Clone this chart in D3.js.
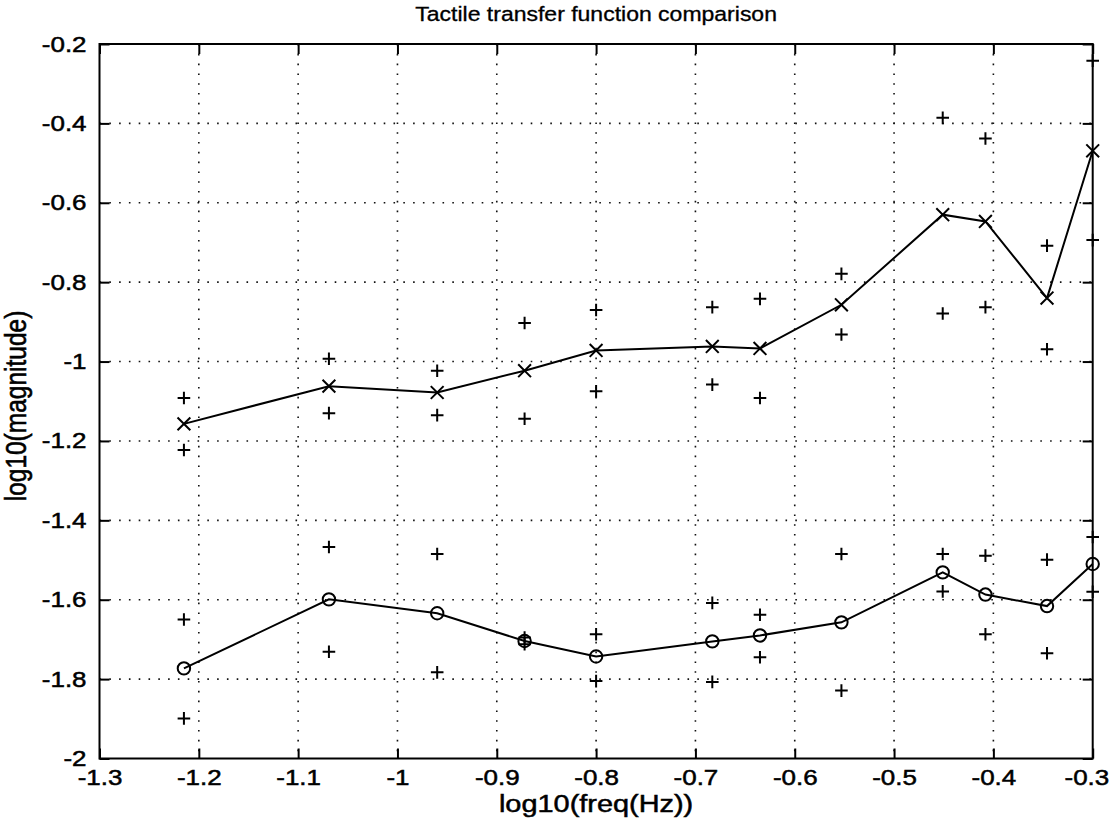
<!DOCTYPE html>
<html>
<head>
<meta charset="utf-8">
<script src="https://cdn.jsdelivr.net/npm/d3@7"></script>
<style>
  html, body { margin: 0; padding: 0; background: #fff; }
  svg { display: block; font-family: "Liberation Sans", Arial, Helvetica, sans-serif; }
</style>
</head>
<body>
<svg id="chart" width="1110" height="822"></svg>
<script>
// log10 of stimulus frequency (Hz)
const freqLog = [-1.215, -1.069, -0.960, -0.872, -0.800, -0.683, -0.635, -0.553, -0.451, -0.408, -0.346, -0.300];

// upper response: mean (x markers) and spread (+ markers)
const upperMean = [-1.157, -1.062, -1.078, -1.023, -0.972, -0.962, -0.967, -0.857, -0.630, -0.647, -0.840, -0.469];
const upperHigh = [-1.092, -0.993, -1.023, -0.903, -0.870, -0.863, -0.842, -0.779, -0.386, -0.438, -0.708, -0.242];
const upperLow  = [-1.223, -1.130, -1.135, -1.144, -1.075, -1.058, -1.092, -0.932, -0.879, -0.863, -0.969, -0.694];

// lower response: mean (o markers) and spread (+ markers)
const lowerMean = [-1.773, -1.599, -1.634, -1.704, -1.743, -1.705, -1.690, -1.657, -1.531, -1.587, -1.616, -1.510];
const lowerHigh = [-1.650, -1.467, -1.485, -1.695, -1.687, -1.608, -1.638, -1.485, -1.485, -1.489, -1.499, -1.442];
const lowerLow  = [-1.899, -1.731, -1.783, -1.712, -1.805, -1.807, -1.745, -1.829, -1.579, -1.687, -1.735, -1.580];

// axis ticks and their labels
const xTicks = [-1.3, -1.2, -1.1, -1.0, -0.9, -0.8, -0.7, -0.6, -0.5, -0.4, -0.3];
const xTickLabels = ["-1.3", "-1.2", "-1.1", "-1", "-0.9", "-0.8", "-0.7", "-0.6", "-0.5", "-0.4", "-0.3"];
const yTicks = [-2.0, -1.8, -1.6, -1.4, -1.2, -1.0, -0.8, -0.6, -0.4, -0.2];
const yTickLabels = ["-2", "-1.8", "-1.6", "-1.4", "-1.2", "-1", "-0.8", "-0.6", "-0.4", "-0.2"];

const titleText = "Tactile transfer function comparison";
const xLabelText = "log10(freq(Hz))";
const yLabelText = "log10(magnitude)";

const svg = d3.select("#chart");
const plotL = 99.5, plotR = 1092.7, plotT = 44, plotB = 758.5;

const x = d3.scaleLinear().domain([-1.3, -0.3]).range([plotL, plotR]);
const y = d3.scaleLinear().domain([-2.0, -0.2]).range([plotB, plotT]);

const ink = "#000";
const tickFont = 22;
const labelFont = 24.5;
const titleFont = 19.5;
const wide = 1.18;      // glyphs are drawn a little wider than tall
const inkWeight = 0.5;  // slight outline to darken the glyphs

function inkText(sel) {
  return sel.attr("fill", ink).attr("stroke", ink).attr("stroke-width", inkWeight);
}

// dotted grid
const grid = svg.append("g").attr("stroke", "#111").attr("stroke-width", 1.6)
  .attr("stroke-dasharray", "1.6 8.2").attr("fill", "none");
grid.selectAll("line.gx").data(xTicks.slice(1, -1)).join("line")
  .attr("x1", d => x(d)).attr("x2", d => x(d)).attr("y1", plotT).attr("y2", plotB);
grid.selectAll("line.gy").data(yTicks.slice(1, -1)).join("line")
  .attr("y1", d => y(d)).attr("y2", d => y(d)).attr("x1", plotL).attr("x2", plotR);

// axes with inward ticks on all four sides
function styleAxis(g) {
  g.select(".domain").remove();
  g.selectAll(".tick line").attr("stroke", ink).attr("stroke-width", 2);
  g.selectAll(".tick text").call(inkText)
    .style("font-size", tickFont + "px")
    .attr("transform", `scale(${wide},1)`);
}
const xAxisG = svg.append("g").attr("transform", `translate(0,${plotB})`)
  .call(d3.axisBottom(x).tickValues(xTicks).tickFormat((d, i) => xTickLabels[i]).tickSize(-10).tickPadding(11))
  .call(styleAxis);
// keep the last label inside the canvas: right-align it just past its tick
xAxisG.selectAll(".tick text").filter((d, i, n) => i === n.length - 1)
  .attr("text-anchor", "end").attr("x", 16 / wide);

svg.append("g").attr("transform", `translate(0,${plotT})`)
  .call(d3.axisTop(x).tickValues(xTicks).tickFormat("").tickSize(-10))
  .call(styleAxis);
svg.append("g").attr("transform", `translate(${plotL},0)`)
  .call(d3.axisLeft(y).tickValues(yTicks).tickFormat((d, i) => yTickLabels[i]).tickSize(-10).tickPadding(11))
  .call(styleAxis);
svg.append("g").attr("transform", `translate(${plotR},0)`)
  .call(d3.axisRight(y).tickValues(yTicks).tickFormat("").tickSize(-10))
  .call(styleAxis);

// frame
svg.append("rect").attr("x", plotL).attr("y", plotT)
  .attr("width", plotR - plotL).attr("height", plotB - plotT)
  .attr("fill", "none").attr("stroke", ink).attr("stroke-width", 2);

// mean lines
const line = d3.line().x(d => x(d[0])).y(d => y(d[1]));
[upperMean, lowerMean].forEach(series => {
  svg.append("path")
    .datum(freqLog.map((f, i) => [f, series[i]]))
    .attr("d", line).attr("fill", "none").attr("stroke", ink)
    .attr("stroke-width", 2).attr("stroke-linejoin", "miter");
});

const marks = svg.append("g").attr("stroke", ink).attr("stroke-width", 2).attr("fill", "none");

// + markers for spread values
const plusPts = [];
[upperHigh, upperLow, lowerHigh, lowerLow].forEach(series => {
  freqLog.forEach((f, i) => plusPts.push([f, series[i]]));
});
const ps = 6.3;
marks.selectAll("path.plus").data(plusPts).join("path")
  .attr("d", d => {
    const cx = x(d[0]), cy = y(d[1]);
    return `M${cx - ps},${cy}H${cx + ps}M${cx},${cy - ps}V${cy + ps}`;
  });

// x markers on the upper mean
const xs = 6.4;
marks.selectAll("path.cross").data(freqLog.map((f, i) => [f, upperMean[i]])).join("path")
  .attr("d", d => {
    const cx = x(d[0]), cy = y(d[1]);
    return `M${cx - xs},${cy - xs}L${cx + xs},${cy + xs}M${cx - xs},${cy + xs}L${cx + xs},${cy - xs}`;
  });

// o markers on the lower mean
marks.selectAll("circle").data(freqLog.map((f, i) => [f, lowerMean[i]])).join("circle")
  .attr("cx", d => x(d[0])).attr("cy", d => y(d[1])).attr("r", 6.2);

// title and axis labels
const midX = (plotL + plotR) / 2;
svg.append("text")
  .attr("transform", `translate(${midX},21) scale(${wide},1)`)
  .attr("text-anchor", "middle").style("font-size", titleFont + "px")
  .call(inkText).attr("stroke-width", 0.3).text(titleText);
svg.append("text")
  .attr("transform", `translate(${midX},812) scale(${wide},1)`)
  .attr("text-anchor", "middle").style("font-size", labelFont + "px")
  .call(inkText).text(xLabelText);
svg.append("text")
  .attr("transform", `translate(26,406) rotate(-90) scale(1,${wide})`)
  .attr("text-anchor", "middle").style("font-size", labelFont + "px")
  .call(inkText).text(yLabelText);
</script>
</body>
</html>
